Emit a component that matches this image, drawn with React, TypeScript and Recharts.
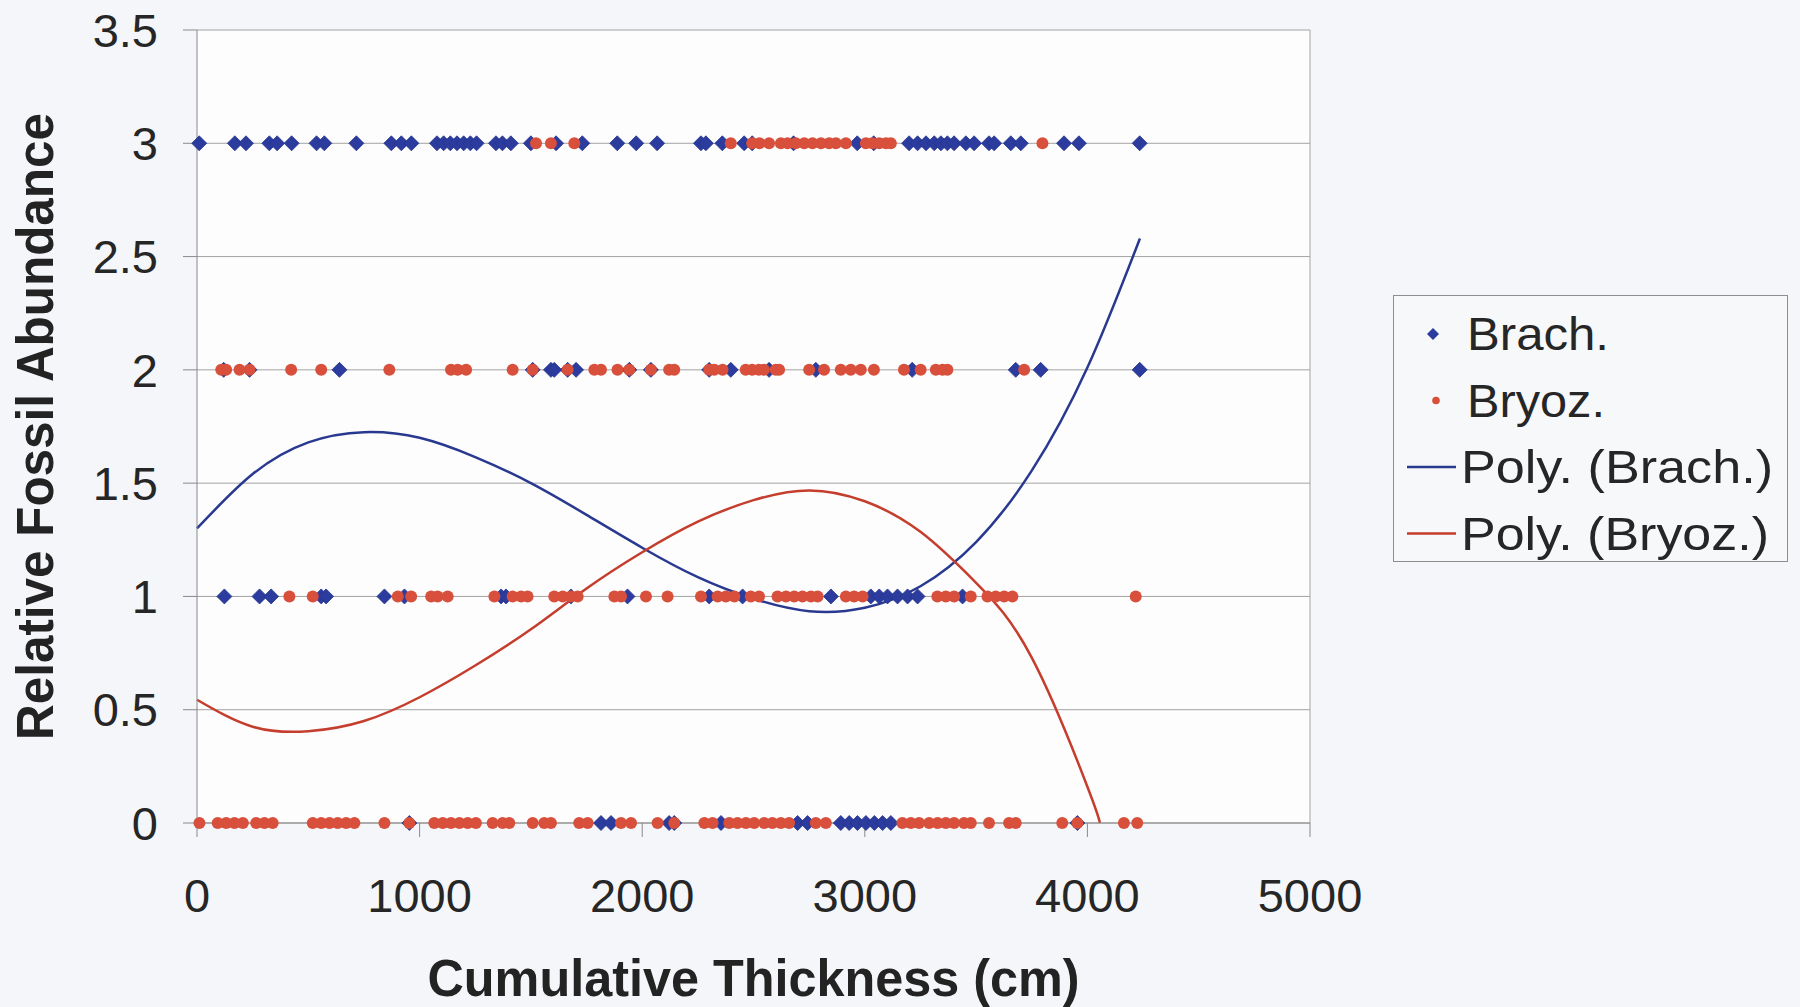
import { ComposedChart, Scatter, Line, XAxis, YAxis, CartesianGrid, Legend, ReferenceLine } from 'recharts';

const BLUE = '#2b3c9e';
const RED = '#d8503c';
const BLUE_LINE = '#2a3990';
const RED_LINE = '#c53d2c';
const FONT = '"Liberation Sans", Arial, sans-serif';

const xTicks = [0, 1000, 2000, 3000, 4000, 5000];
const yTicks = [0, 0.5, 1, 1.5, 2, 2.5, 3, 3.5];

// Brach. samples: cumulative thickness (cm) at each abundance level
const brachAt3 = [10, 170, 220, 325, 360, 425, 537, 572, 716, 873, 918, 963, 1078, 1108, 1138, 1168, 1198, 1228, 1256, 1343, 1372, 1410, 1500, 1613, 1731, 1888, 1973, 2067, 2264, 2286, 2360, 2458, 2494, 2680, 2966, 3040, 3199, 3237, 3275, 3312, 3342, 3371, 3401, 3454, 3491, 3558, 3581, 3656, 3701, 3895, 3962, 4235];
const brachAt2 = [120, 236, 640, 1508, 1590, 1605, 1665, 1703, 1942, 2039, 2301, 2398, 2570, 2780, 3213, 3678, 3790, 4235];
const brachAt1 = [123, 281, 333, 558, 580, 842, 932, 1366, 1388, 1680, 1934, 2301, 2451, 2848, 3027, 3065, 3102, 3147, 3192, 3237, 3439];
const brachAt0 = [954, 1815, 1860, 2121, 2144, 2354, 2698, 2743, 2892, 2930, 2967, 3005, 3043, 3080, 3117, 3955];

// Bryoz. samples
const bryozAt3 = [1523, 1590, 1695, 2398, 2494, 2527, 2570, 2623, 2653, 2690, 2728, 2765, 2803, 2840, 2870, 2915, 3005, 3034, 3065, 3095, 3117, 3798];
const bryozAt2 = [109, 131, 191, 236, 423, 558, 864, 1141, 1171, 1209, 1418, 1508, 1665, 1785, 1815, 1889, 1942, 2039, 2121, 2144, 2301, 2324, 2361, 2465, 2494, 2524, 2547, 2600, 2615, 2750, 2817, 2892, 2937, 2982, 3041, 3176, 3251, 3319, 3349, 3371, 3716];
const bryozAt1 = [415, 520, 902, 962, 1052, 1081, 1126, 1336, 1418, 1456, 1485, 1605, 1643, 1680, 1710, 1875, 1905, 2017, 2114, 2264, 2339, 2376, 2414, 2488, 2525, 2608, 2646, 2683, 2720, 2758, 2788, 2915, 2952, 2990, 3326, 3364, 3401, 3476, 3551, 3588, 3626, 3663, 4217];
const bryozAt0 = [11, 93, 131, 168, 206, 266, 303, 340, 520, 558, 595, 632, 670, 707, 842, 954, 1066, 1104, 1141, 1179, 1216, 1253, 1328, 1373, 1403, 1508, 1560, 1590, 1717, 1755, 1905, 1950, 2069, 2144, 2279, 2316, 2391, 2428, 2466, 2503, 2548, 2585, 2623, 2660, 2780, 2825, 3169, 3207, 3244, 3289, 3327, 3364, 3401, 3446, 3476, 3558, 3648, 3678, 3887, 3955, 4164, 4224];

// trend lines, every 250 cm
const polyBrachX = [0, 250, 500, 750, 1000, 1250, 1500, 1750, 2000, 2250, 2500, 2750, 3000, 3250, 3500, 3750, 4000, 4236];
const polyBrachY = [1.3, 1.54, 1.68, 1.725, 1.7, 1.615, 1.5, 1.36, 1.215, 1.085, 0.99, 0.935, 0.95, 1.045, 1.24, 1.555, 2.01, 2.58];
const polyBryozX = [0, 250, 500, 750, 1000, 1250, 1500, 1750, 2000, 2250, 2500, 2750, 3000, 3250, 3500, 3750, 4000, 4056];
const polyBryozY = [0.544, 0.425, 0.405, 0.45, 0.555, 0.695, 0.855, 1.035, 1.195, 1.33, 1.425, 1.468, 1.42, 1.285, 1.06, 0.73, 0.16, 0];

const legendItems = [
  { name: 'Brach.', kind: 'diamond', color: BLUE, width: 142 },
  { name: 'Bryoz.', kind: 'dot', color: RED, width: 138 },
  { name: 'Poly. (Brach.)', kind: 'line', color: BLUE_LINE, width: 312 },
  { name: 'Poly. (Bryoz.)', kind: 'line', color: RED_LINE, width: 308 },
];

const level = (xs: number[], y: number) => xs.map((x) => ({ x, y }));
const brachData = [...level(brachAt3, 3), ...level(brachAt2, 2), ...level(brachAt1, 1), ...level(brachAt0, 0)];
const bryozData = [...level(bryozAt3, 3), ...level(bryozAt2, 2), ...level(bryozAt1, 1), ...level(bryozAt0, 0)];
const polyBrach = polyBrachX.map((x, i) => ({ x, y: polyBrachY[i] }));
const polyBryoz = polyBryozX.map((x, i) => ({ x, y: polyBryozY[i] }));

const Diamond = (props: any) => {
  const { cx, cy } = props;
  if (cx == null || cy == null) return null;
  const r = 7.5;
  return <path d={`M${cx},${cy - r}L${cx + r},${cy}L${cx},${cy + r}L${cx - r},${cy}Z`} fill={BLUE} stroke="#24338a" strokeWidth={0.8} />;
};

const Dot = (props: any) => {
  const { cx, cy } = props;
  if (cx == null || cy == null) return null;
  return <circle cx={cx} cy={cy} r={6} fill={RED} />;
};

const XLabel = (props: any) => {
  const vb = props.viewBox;
  return (
    <text x={vb.x + vb.width / 2} y={vb.y + 173} textAnchor="middle" fontFamily={FONT} fontWeight="bold"
      fontSize={52} fill="#232323" textLength={652} lengthAdjust="spacingAndGlyphs">
      Cumulative Thickness (cm)
    </text>
  );
};

const YLabel = (props: any) => {
  const vb = props.viewBox;
  const cx = 53;
  const cy = vb.y + vb.height / 2;
  return (
    <text x={cx} y={cy} transform={`rotate(-90, ${cx}, ${cy})`} textAnchor="middle" fontFamily={FONT}
      fontWeight="bold" fontSize={52} fill="#232323" textLength={627} lengthAdjust="spacingAndGlyphs">
      Relative Fossil Abundance
    </text>
  );
};

const renderLegend = () => (
  <svg width={396} height={268} style={{ display: 'block' }}>
    <rect x={0.5} y={0.5} width={394} height={266} fill="#f7f8fa" stroke="#8e8e8e" />
    {legendItems.map((item, i) => {
      const base = 55 + i * 66.5;
      const mid = base - 16;
      return (
        <g key={item.name}>
          {item.kind === 'diamond' && (
            <path d={`M40,${mid - 6}L46,${mid}L40,${mid + 6}L34,${mid}Z`} fill={item.color} />
          )}
          {item.kind === 'dot' && <circle cx={43} cy={mid} r={3.8} fill={item.color} />}
          {item.kind === 'line' && <line x1={14} x2={63} y1={mid} y2={mid} stroke={item.color} strokeWidth={2.5} />}
          <text x={i < 2 ? 74 : 68} y={base} fontFamily={FONT} fontSize={46} fill="#262626"
            textLength={item.width} lengthAdjust="spacingAndGlyphs">
            {item.name}
          </text>
        </g>
      );
    })}
  </svg>
);

const App = () => {
  return (
    <div style={{ position: 'absolute', left: 0, top: 0, width: 1800, height: 1007, background: '#f4f6f9' }}>
      <ComposedChart width={1800} height={1007} margin={{ top: 30, right: 490, left: 0, bottom: 0 }}>
        <CartesianGrid vertical={false} stroke="#a3a3a3" fill="#fdfdfe" />
        <XAxis
          type="number"
          dataKey="x"
          domain={[0, 5000]}
          ticks={xTicks}
          height={184}
          tickSize={14}
          tickMargin={42}
          stroke="#8a8a8a"
          tick={{ fontSize: 47, fontFamily: FONT, fill: '#262626' }}
          label={<XLabel />}
        />
        <YAxis
          type="number"
          dataKey="y"
          domain={[0, 3.5]}
          ticks={yTicks}
          width={197}
          tickSize={14}
          tickMargin={25}
          stroke="#8a8a8a"
          tick={{ fontSize: 47, fontFamily: FONT, fill: '#262626' }}
          label={<YLabel />}
        />
        <ReferenceLine x={5000} stroke="#a3a3a3" />
        <Scatter name="Brach." data={brachData} shape={<Diamond />} isAnimationActive={false} />
        <Scatter name="Bryoz." data={bryozData} shape={<Dot />} isAnimationActive={false} />
        <Line name="Poly. (Brach.)" data={polyBrach} dataKey="y" type="natural" stroke={BLUE_LINE} strokeWidth={2.5} dot={false} isAnimationActive={false} />
        <Line name="Poly. (Bryoz.)" data={polyBryoz} dataKey="y" type="natural" stroke={RED_LINE} strokeWidth={2.5} dot={false} isAnimationActive={false} />
        <Legend
          layout="vertical"
          align="center"
          verticalAlign="middle"
          content={renderLegend}
          wrapperStyle={{ left: 1393, top: 295, width: 396, height: 268 }}
        />
      </ComposedChart>
    </div>
  );
};

export default App;
